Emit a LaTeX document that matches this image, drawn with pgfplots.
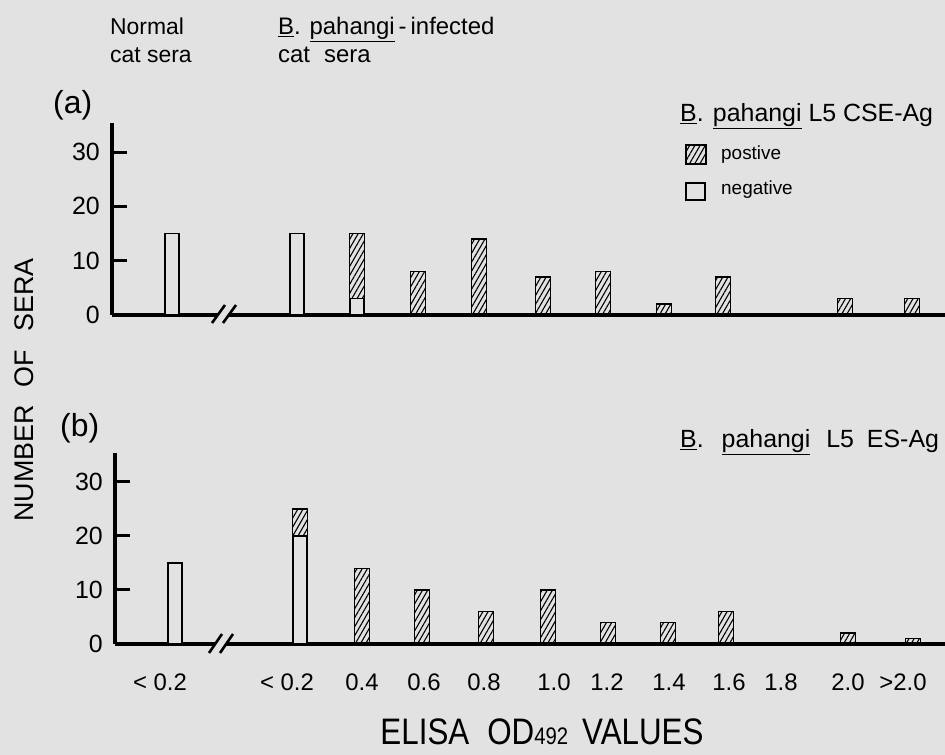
\documentclass[border=0pt]{standalone}
\usepackage{pgfplots}
\pgfplotsset{compat=1.18}
\usepackage{fontspec}
\setmainfont{Liberation Sans}
\newfontfamily\condfont{Liberation Sans}[FakeStretch=0.85]
\usetikzlibrary{patterns.meta}
\definecolor{bg}{RGB}{226,226,226}
\newcommand{\fs}[1]{\fontsize{#1}{#1}\selectfont}
\tikzset{
  hatchbar/.style={draw=black, line width=1.4bp, pattern={Lines[angle=60,distance=4.5bp,line width=1.1bp]}},
  negbar/.style={draw=black, line width=1.4bp, fill=bg},
}
\pgfplotsset{
  panel/.style={
    anchor=south west,
    x=1bp,
    xmax=945, ymin=0, ymax=35.4,
    axis x line*=bottom, axis y line*=left,
    axis line style={line width=3.5bp, -},
    ytick={0,10,20,30},
    tick align=inside,
    major tick length=15bp,
    ytick style={line width=3bp, black},
    xtick style={draw=none},
    /pgf/number format/assume math mode=true,
    yticklabel style={anchor=east, inner sep=0pt, xshift=-12bp, font=\fs{25}},
    clip=false,
  }
}
\begin{document}
\begin{tikzpicture}[x=1bp,y=1bp]
\fill[bg] (0,0) rectangle (945,755);
\useasboundingbox (0,0) rectangle (945,755);

% ---------- panel (a) ----------
\begin{axis}[panel, at={(112bp,440bp)}, xmin=112, y=5.43bp, xtick=\empty]
\addplot[ybar, bar width=15bp, bar shift=0pt, hatchbar]
  coordinates {(357,15) (418,8) (479,14) (543,7) (603,8) (664,2) (723,7) (845,3) (912,3)};
\addplot[ybar, bar width=14bp, bar shift=0pt, negbar]
  coordinates {(172,15) (297,15) (357,3)};
\end{axis}

% ---------- panel (b) ----------
\begin{axis}[panel, at={(115bp,111bp)}, xmin=115, y=5.4bp,
  xtick={160,287,362,424,484,554,607,669,729,781,848,903},
  xticklabels={< 0.2,< 0.2,0.4,0.6,0.8,1.0,1.2,1.4,1.6,1.8,2.0,>2.0},
  xticklabel style={anchor=center, inner sep=0pt, yshift=-38bp, font=\fs{24}},
]
\addplot[ybar, bar width=15bp, bar shift=0pt, hatchbar]
  coordinates {(300,25) (362,14) (422,10) (486,6) (548,10) (608,4) (668,4) (726,6) (848,2) (913,1)};
\addplot[ybar, bar width=14bp, bar shift=0pt, negbar]
  coordinates {(175,15) (300,20)};
\end{axis}

% axis breaks
\fill[bg] (216,436) -- (227,436) -- (232,444) -- (221,444) -- cycle;
\draw[line width=2.6bp] (212,432) -- (225,450) (223,432) -- (236,450);
\fill[bg] (213,107) -- (224,107) -- (229,115) -- (218,115) -- cycle;
\draw[line width=2.6bp] (209,102) -- (222,121) (220,102) -- (233,121);

% legend of panel (a)
\draw[line width=1.6bp, pattern={Lines[angle=60,distance=4.5bp,line width=1.1bp]}] (686,610) rectangle (706,591);
\draw[line width=1.6bp, fill=bg] (686,572) rectangle (705,555);
\node[anchor=base west, inner sep=0pt, font=\fs{19}] at (721,595) {postive};
\node[anchor=base west, inner sep=0pt, font=\fs{19}] at (721,560) {negative};

% panel titles
\node[anchor=base west, inner sep=0pt, font=\fs{25}] at (680,633)
  {\underline{B}. \underline{pahangi} L5 CSE-Ag};
\node[anchor=base west, inner sep=0pt, font=\fs{25}] at (680,307)
  {\underline{B}.\hspace{18bp}\underline{pahangi}\hspace{16bp}L5\hspace{6bp} ES-Ag};

% panel letters
\node[anchor=west, inner sep=0pt, font=\fs{32}] at (53,650) {(a)};
\node[anchor=west, inner sep=0pt, font=\fs{32}] at (60,327) {(b)};

% group labels
\node[anchor=base west, inner sep=0pt, font=\fs{23}] at (110,720) {Normal};
\node[anchor=base west, inner sep=0pt, font=\fs{23}] at (110,692) {cat sera};
\node[anchor=base west, inner sep=0pt, font=\fs{24}] at (278,720) {\underline{B}. \underline{pahangi}\,-\,infected};
\node[anchor=base west, inner sep=0pt, font=\fs{24}] at (278,692) {cat\hspace{14bp}sera};

% axis titles
\node[rotate=90, inner sep=0pt, font=\fs{27}] at (24,365) {NUMBER\hspace{18bp}OF\hspace{18bp}SERA};
\node[anchor=base, inner sep=0pt, font=\condfont\fs{37}] at (542,10)
  {ELISA\hspace{18bp}OD{\fs{24}492}\hspace{14bp}VALUES};
\end{tikzpicture}
\end{document}
